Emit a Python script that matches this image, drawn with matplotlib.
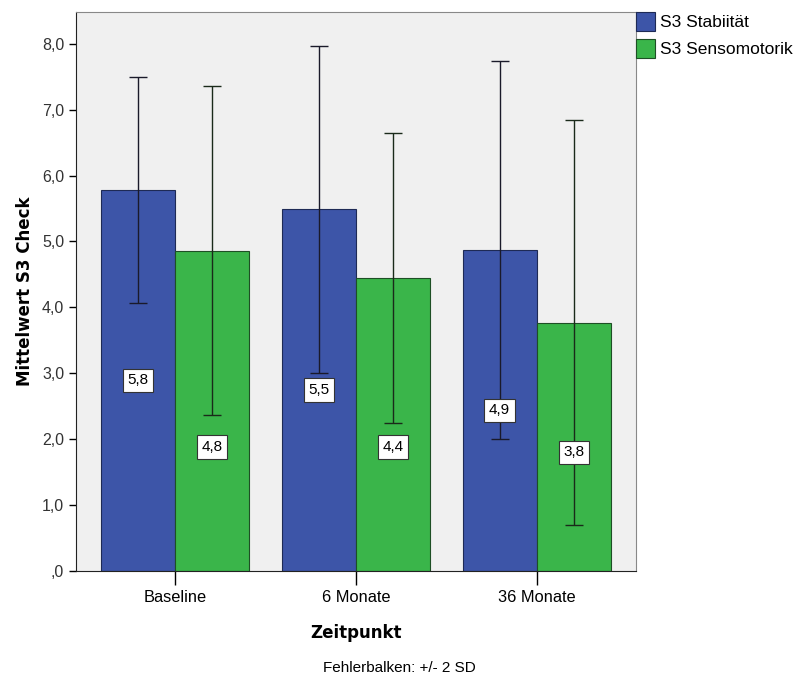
import matplotlib.pyplot as plt
import numpy as np

zeitpunkte = ["Baseline", "6 Monate", "36 Monate"]
stabilitaet = [5.78, 5.49, 4.87]
sensomotorik = [4.86, 4.45, 3.77]
stab_2sd = [1.71, 2.48, 2.87]
senso_2sd = [2.50, 2.20, 3.07]
stab_labels = ["5,8", "5,5", "4,9"]
senso_labels = ["4,8", "4,4", "3,8"]

BLUE = "#3D55A8"
GREEN = "#3AB54A"

fig = plt.figure(figsize=(7.98, 6.78), dpi=100)
ax = fig.add_axes([0.0952, 0.158, 0.702, 0.824])
ax.set_facecolor("#F0F0F0")

x = np.arange(len(zeitpunkte))
w = 0.41
ax.bar(x - w / 2, stabilitaet, w, color=BLUE, edgecolor="#1E2A55", linewidth=0.8,
       label="S3 Stabiität", zorder=2)
ax.bar(x + w / 2, sensomotorik, w, color=GREEN, edgecolor="#1E4F25", linewidth=0.8,
       label="S3 Sensomotorik", zorder=2)
ax.errorbar(x - w / 2, stabilitaet, yerr=stab_2sd, fmt="none", ecolor="#1a1a2a",
            elinewidth=1, capsize=6.5, capthick=1, zorder=3)
ax.errorbar(x + w / 2, sensomotorik, yerr=senso_2sd, fmt="none", ecolor="#1a2a1a",
            elinewidth=1, capsize=6.5, capthick=1, zorder=3)

# label heights (SPSS puts the green ones lower)
senso_label_y = [1.88, 1.88, 1.80]

box = dict(boxstyle="square,pad=0.3", facecolor="white", edgecolor="#333333", linewidth=0.8)
for xi, v, lab in zip(x - w / 2, stabilitaet, stab_labels):
    ax.text(xi, v / 2, lab, ha="center", va="center", fontsize=11,
            family="Liberation Sans", bbox=box, zorder=4)
for xi, yl, lab in zip(x + w / 2, senso_label_y, senso_labels):
    ax.text(xi, yl, lab, ha="center", va="center", fontsize=11,
            family="Liberation Sans", bbox=box, zorder=4)

ax.set_xlim(-0.547, 2.55)
ax.set_ylim(0, 8.48)
ax.set_yticks(np.arange(0, 9, 1))
ax.set_yticklabels([",0"] + [f"{i},0" for i in range(1, 9)], family="Liberation Sans",
                   fontsize=11.5, color="#333333")
ax.set_xticks(x)
ax.set_xticklabels(zeitpunkte, family="Liberation Sans", fontsize=11.8)
ax.tick_params(axis="y", length=5, width=1)
ax.tick_params(axis="x", length=10, width=1)

for s in ["top", "right"]:
    ax.spines[s].set_color("#888888")
ax.spines["left"].set_color("#222222")
ax.spines["bottom"].set_color("#222222")

ax.set_ylabel("Mittelwert S3 Check", fontsize=12, fontweight="bold", family="DejaVu Sans",
              labelpad=6)
ax.set_xlabel("Zeitpunkt", fontsize=12, fontweight="bold", family="DejaVu Sans", labelpad=14)

ax.legend(loc="upper left", bbox_to_anchor=(1.0, 1.0), frameon=False, handlelength=1.1,
          handleheight=1.3, handletextpad=0.25, borderaxespad=0.0, borderpad=0.0,
          labelspacing=0.45, prop={"family": "Liberation Sans", "size": 12.5})

fig.text(0.5, 0.005, "Fehlerbalken: +/- 2 SD", ha="center", va="bottom",
         family="Liberation Sans", fontsize=11)

fig.savefig("out.png", dpi=100)
